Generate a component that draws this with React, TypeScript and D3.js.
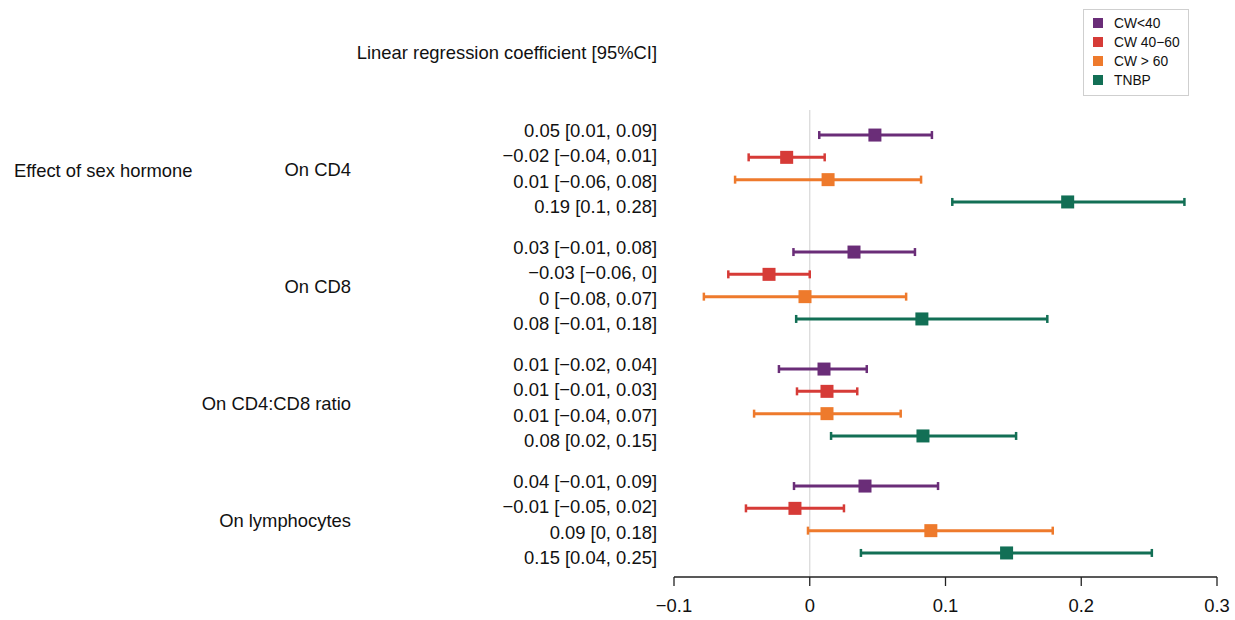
import React from "react";
import * as d3 from "d3";

const outcomes = ["On CD4", "On CD8", "On CD4:CD8 ratio", "On lymphocytes"];
const seriesNames = ["CW<40", "CW 40\u221260", "CW > 60", "TNBP"];
const seriesColors = ["#6a2d78", "#d63b37", "#ee7a2c", "#126f55"];

// estimates [outcome][series]
const est = [
  [0.048, -0.017, 0.0135, 0.19],
  [0.0326, -0.03, -0.0035, 0.0826],
  [0.0105, 0.0127, 0.0127, 0.0834],
  [0.0407, -0.0109, 0.0892, 0.145],
];
const lower = [
  [0.007, -0.045, -0.055, 0.105],
  [-0.012, -0.06, -0.078, -0.01],
  [-0.0227, -0.0094, -0.041, 0.0157],
  [-0.0116, -0.047, -0.0013, 0.0377],
];
const upper = [
  [0.09, 0.011, 0.082, 0.276],
  [0.0775, 0.0, 0.071, 0.175],
  [0.042, 0.035, 0.067, 0.152],
  [0.0945, 0.0252, 0.179, 0.252],
];
const labels = [
  ["0.05 [0.01, 0.09]", "\u22120.02 [\u22120.04, 0.01]", "0.01 [\u22120.06, 0.08]", "0.19 [0.1, 0.28]"],
  ["0.03 [\u22120.01, 0.08]", "\u22120.03 [\u22120.06, 0]", "0 [\u22120.08, 0.07]", "0.08 [\u22120.01, 0.18]"],
  ["0.01 [\u22120.02, 0.04]", "0.01 [\u22120.01, 0.03]", "0.01 [\u22120.04, 0.07]", "0.08 [0.02, 0.15]"],
  ["0.04 [\u22120.01, 0.09]", "\u22120.01 [\u22120.05, 0.02]", "0.09 [0, 0.18]", "0.15 [0.04, 0.25]"],
];
const xTicks = [-0.1, 0, 0.1, 0.2, 0.3];
const tickLabels = ["\u22120.1", "0", "0.1", "0.2", "0.3"];

export default function App() {
  const W = 1235, H = 620;
  const x = d3.scaleLinear().domain([-0.1, 0.3]).range([674, 1217]);
  const markStep = 22.3;
  const textStep = 25.6;
  const groupCenter = (g: number) => 168.5 + g * 117;
  const rowY = (g: number, r: number) => groupCenter(g) + (r - 1.5) * markStep;
  const textY = (g: number, r: number) => groupCenter(g) + (r - 1.5) * textStep;
  const font = "Liberation Sans, Arial, sans-serif";
  const fs = 18.4;
  const axisY = 577;
  return (
    <svg width={W} height={H} style={{ position: "absolute", left: 0, top: 0 }} fontFamily={font}>
      <rect x={0} y={0} width={W} height={H} fill="#fff" />
      <text x={657} y={59} textAnchor="end" fontSize={fs} fill="#111">
        Linear regression coefficient [95%CI]
      </text>
      <line x1={x(0)} x2={x(0)} y1={110} y2={axisY} stroke="#d8d8d8" strokeWidth={1.2} />
      <text x={14} y={176.5} fontSize={fs} fill="#111">Effect of sex hormone</text>
      {outcomes.map((o, g) => (
        <g key={o}>
          <text x={351} y={groupCenter(g) + 7.5} textAnchor="end" fontSize={fs} fill="#111">
            {o}
          </text>
          {seriesNames.map((s, r) => {
            const y = rowY(g, r);
            const c = seriesColors[r];
            return (
              <g key={s}>
                <text x={657} y={textY(g, r) + 6.5} textAnchor="end" fontSize={fs} fill="#111">
                  {labels[g][r]}
                </text>
                <line x1={x(lower[g][r])} x2={x(upper[g][r])} y1={y} y2={y} stroke={c} strokeWidth={3} />
                <line x1={x(lower[g][r])} x2={x(lower[g][r])} y1={y - 4} y2={y + 4} stroke={c} strokeWidth={2.5} />
                <line x1={x(upper[g][r])} x2={x(upper[g][r])} y1={y - 4} y2={y + 4} stroke={c} strokeWidth={2.5} />
                <rect x={x(est[g][r]) - 6.5} y={y - 6.5} width={13} height={13} fill={c} />
              </g>
            );
          })}
        </g>
      ))}
      <line x1={x(-0.1)} x2={x(0.3)} y1={axisY} y2={axisY} stroke="#222" strokeWidth={1.3} />
      {xTicks.map((t, i) => (
        <g key={t}>
          <line x1={x(t)} x2={x(t)} y1={axisY} y2={axisY + 9} stroke="#222" strokeWidth={1.3} />
          <text x={x(t)} y={axisY + 35} textAnchor="middle" fontSize={fs} fill="#111">
            {tickLabels[i]}
          </text>
        </g>
      ))}
      <rect x={1083.5} y={9.5} width={105} height={86} fill="#fff" stroke="#cfcfcf" strokeWidth={1} />
      {seriesNames.map((s, i) => (
        <g key={s}>
          <rect x={1093} y={18 + i * 19} width={10} height={10} fill={seriesColors[i]} />
          <text x={1114} y={28 + i * 19} fontSize={13.8} fill="#111">{s}</text>
        </g>
      ))}
    </svg>
  );
}
